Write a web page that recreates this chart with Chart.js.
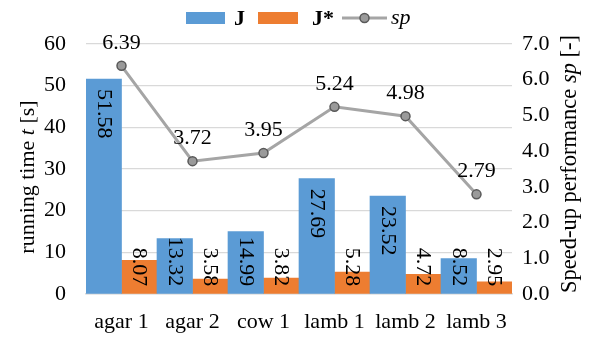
<!DOCTYPE html>
<html>
<head>
<meta charset="utf-8">
<script src="https://cdn.jsdelivr.net/npm/chart.js@4"></script>
<style>
  html, body { margin: 0; padding: 0; background: #fff; }
  #wrap { width: 593px; height: 339px; }
</style>
</head>
<body>
<div id="wrap"><canvas id="c" width="593" height="339"></canvas></div>
<script>
// Samples and measured values
const categories = ['agar 1', 'agar 2', 'cow 1', 'lamb 1', 'lamb 2', 'lamb 3'];
const runtimeJ = [51.58, 13.32, 14.99, 27.69, 23.52, 8.52];
const runtimeJStar = [8.07, 3.58, 3.82, 5.28, 4.72, 2.95];
const speedup = [6.39, 3.72, 3.95, 5.24, 4.98, 2.79];

const FONT = '"Liberation Serif", "Times New Roman", serif';
const BLUE = '#5B9BD5';
const ORANGE = '#ED7D31';
const GRAY = '#A5A5A5';
const GRID = '#D9D9D9';

// Draws a run of text pieces with individual styles, centred at (0,0)
function drawRich(ctx, parts, size) {
  let total = 0;
  const widths = parts.map(p => {
    ctx.font = `${p.style || ''} ${size}px ${FONT}`;
    const w = ctx.measureText(p.text).width;
    total += w;
    return w;
  });
  let x = -total / 2;
  ctx.textAlign = 'left';
  ctx.textBaseline = 'middle';
  parts.forEach((p, i) => {
    ctx.font = `${p.style || ''} ${size}px ${FONT}`;
    ctx.fillText(p.text, x, 0);
    x += widths[i];
  });
}

const decorations = {
  id: 'decorations',
  afterDatasetsDraw(chart) {
    const ctx = chart.ctx;
    ctx.save();
    ctx.fillStyle = '#000';
    ctx.font = `22px ${FONT}`;
    // rotated value labels on the bars
    [0, 1].forEach(di => {
      const meta = chart.getDatasetMeta(di);
      const vals = chart.data.datasets[di].data;
      meta.data.forEach((el, i) => {
        const txt = vals[i].toFixed(2);
        const w = ctx.measureText(txt).width;
        let start = el.y + 10;
        if (start + w > el.base - 7) start = el.base - 7 - w;
        ctx.save();
        ctx.translate(el.x, start);
        ctx.rotate(Math.PI / 2);
        ctx.textAlign = 'left';
        ctx.textBaseline = 'middle';
        ctx.fillText(txt, 0, 0);
        ctx.restore();
      });
    });
    // labels above the speed-up points
    const lm = chart.getDatasetMeta(2);
    const lv = chart.data.datasets[2].data;
    ctx.textAlign = 'center';
    ctx.textBaseline = 'middle';
    lm.data.forEach((pt, i) => {
      ctx.fillText(lv[i].toFixed(2), pt.x, pt.y - 23);
    });
    ctx.restore();
  },
  afterDraw(chart) {
    const ctx = chart.ctx;
    ctx.save();
    ctx.fillStyle = '#000';
    // legend
    const ly = 18;
    ctx.fillStyle = BLUE;
    ctx.fillRect(186, 12, 39, 12);
    ctx.fillStyle = ORANGE;
    ctx.fillRect(258, 12, 40, 12);
    ctx.fillStyle = '#000';
    ctx.textAlign = 'left';
    ctx.textBaseline = 'middle';
    ctx.font = `bold 22px ${FONT}`;
    ctx.fillText('J', 234, ly + 1);
    ctx.fillText('J*', 312, ly + 1);
    ctx.strokeStyle = GRAY;
    ctx.lineWidth = 3;
    ctx.beginPath();
    ctx.moveTo(342, ly);
    ctx.lineTo(387, ly);
    ctx.stroke();
    ctx.beginPath();
    ctx.arc(364.5, ly, 4.5, 0, Math.PI * 2);
    ctx.fillStyle = '#9A9A9A';
    ctx.fill();
    ctx.lineWidth = 1.5;
    ctx.strokeStyle = '#595959';
    ctx.stroke();
    ctx.fillStyle = '#000';
    ctx.font = `italic 22px ${FONT}`;
    ctx.fillText('sp', 391, ly);

    // axis titles
    ctx.save();
    ctx.translate(28, 177);
    ctx.rotate(-Math.PI / 2);
    drawRich(ctx, [{ text: 'running time ' }, { text: 't', style: 'italic' }, { text: ' [s]' }], 22);
    ctx.restore();

    ctx.save();
    ctx.translate(570, 164);
    ctx.rotate(-Math.PI / 2);
    drawRich(ctx, [{ text: 'Speed-up performance ' }, { text: 'sp', style: 'italic' }, { text: ' [-]' }], 22.5);
    ctx.restore();
    ctx.restore();
  }
};

new Chart(document.getElementById('c'), {
  type: 'bar',
  data: {
    labels: categories,
    datasets: [
      {
        label: 'J', data: runtimeJ, backgroundColor: BLUE,
        categoryPercentage: 1.0, barPercentage: 1.0, yAxisID: 'y', order: 2
      },
      {
        label: 'J*', data: runtimeJStar, backgroundColor: ORANGE,
        categoryPercentage: 1.0, barPercentage: 1.0, yAxisID: 'y', order: 2
      },
      {
        type: 'line', label: 'sp', data: speedup, yAxisID: 'y2', order: 1,
        borderColor: GRAY, borderWidth: 3, tension: 0,
        pointRadius: 4.5, pointHoverRadius: 4.5,
        pointBackgroundColor: '#9A9A9A', pointBorderColor: '#595959', pointBorderWidth: 1.5
      }
    ]
  },
  options: {
    responsive: false,
    animation: false,
    devicePixelRatio: 1,
    layout: { padding: { top: 44, left: 0, right: 0, bottom: 0 } },
    plugins: { legend: { display: false }, tooltip: { enabled: false } },
    scales: {
      x: {
        grid: { display: false, drawTicks: false },
        border: { display: true, color: GRID, width: 1.5 },
        ticks: { color: '#000', font: { family: FONT, size: 22 }, padding: 15, maxRotation: 0, autoSkip: false },
        afterFit: s => { s.height = 45; }
      },
      y: {
        position: 'left', min: 0, max: 60,
        grid: { color: GRID, lineWidth: 1.3, drawTicks: false },
        border: { display: false },
        ticks: { stepSize: 10, color: '#000', font: { family: FONT, size: 22 }, padding: 20 },
        afterFit: s => { s.width = 86; }
      },
      y2: {
        position: 'right', min: 0, max: 7,
        grid: { display: false, drawTicks: false },
        border: { display: false },
        ticks: { stepSize: 1, color: '#000', font: { family: FONT, size: 22 }, padding: 10,
                 callback: v => Number(v).toFixed(1) },
        afterFit: s => { s.width = 81; }
      }
    }
  },
  plugins: [decorations]
});
</script>
</body>
</html>
